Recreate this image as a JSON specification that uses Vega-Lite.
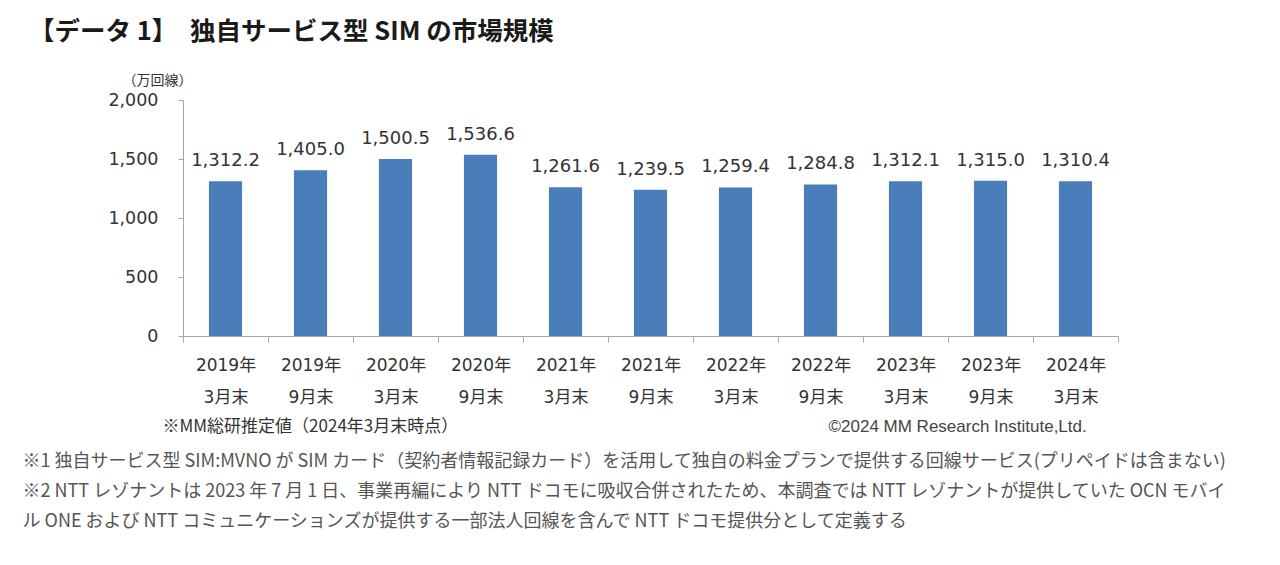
{
  "$schema": "https://vega.github.io/schema/vega-lite/v6.json",
  "autosize": "none",
  "width": 935,
  "height": 236,
  "padding": {"left": 183, "top": 100, "right": 162, "bottom": 229},
  "background": "white",
  "config": {"view": {"stroke": null}},
  "title": {
    "text": "【データ 1】　独自サービス型 SIM の市場規模",
    "anchor": "start",
    "frame": "group",
    "orient": "top",
    "baseline": "bottom",
    "offset": 0,
    "dx": -154,
    "dy": -3,
    "font": "Noto Sans CJK JP",
    "fontSize": 25.5,
    "fontWeight": "bold",
    "color": "#1a1a1a"
  },
  "data": {
    "values": [
      {"period": "2019年 3月末", "value": 1312.2},
      {"period": "2019年 9月末", "value": 1405.0},
      {"period": "2020年 3月末", "value": 1500.5},
      {"period": "2020年 9月末", "value": 1536.6},
      {"period": "2021年 3月末", "value": 1261.6},
      {"period": "2021年 9月末", "value": 1239.5},
      {"period": "2022年 3月末", "value": 1259.4},
      {"period": "2022年 9月末", "value": 1284.8},
      {"period": "2023年 3月末", "value": 1312.1},
      {"period": "2023年 9月末", "value": 1315.0},
      {"period": "2024年 3月末", "value": 1310.4}
    ]
  },
  "layer": [
    {
      "mark": {"type": "bar", "width": {"band": 0.39}, "color": "#4A7EBB"},
      "encoding": {
        "x": {
          "field": "period",
          "type": "nominal",
          "sort": null,
          "scale": {"paddingInner": 0, "paddingOuter": 0},
          "axis": {
            "orient": "bottom",
            "labelExpr": "split(datum.label, ' ')",
            "labelAngle": 0,
            "labelFont": "DejaVu Sans, Noto Sans CJK JP",
            "labelFontSize": 17,
            "labelColor": "#333333",
            "labelLineHeight": 32,
            "labelPadding": 15,
            "labelBaseline": "top",
            "tickBand": "extent",
            "tickSize": 6,
            "tickColor": "#a6a6a6",
            "domainColor": "#a6a6a6",
            "grid": false,
            "title": "※MM総研推定値（2024年3月末時点）",
            "titleX": -21,
            "titleY": 90,
            "titleAlign": "left",
            "titleAnchor": null,
            "titleBaseline": "middle",
            "titleFont": "Noto Sans CJK JP",
            "titleFontSize": 17,
            "titleFontWeight": "normal",
            "titleColor": "#333333"
          }
        },
        "y": {
          "field": "value",
          "type": "quantitative",
          "scale": {"domain": [0, 2000], "nice": false},
          "axis": {
            "values": [0, 500, 1000, 1500, 2000],
            "format": ",.0f",
            "labelFont": "DejaVu Sans",
            "labelFontSize": 17.5,
            "labelColor": "#333333",
            "labelPadding": 20,
            "tickSize": 5,
            "tickColor": "#a6a6a6",
            "domainColor": "#a6a6a6",
            "grid": false,
            "title": "（万回線）",
            "titleAngle": 0,
            "titleX": -26,
            "titleY": -20,
            "titleAlign": "center",
            "titleBaseline": "middle",
            "titleFont": "Noto Sans CJK JP",
            "titleFontSize": 14,
            "titleFontWeight": "normal",
            "titleColor": "#333333"
          }
        }
      }
    },
    {
      "mark": {"type": "text", "baseline": "alphabetic", "dy": -15, "font": "DejaVu Sans", "fontSize": 18, "color": "#333333"},
      "encoding": {
        "x": {
          "field": "period",
          "type": "nominal",
          "sort": null,
          "axis": {
            "orient": "bottom",
            "labels": false,
            "ticks": false,
            "domain": false,
            "grid": false,
            "title": "©2024 MM Research Institute,Ltd.",
            "titleX": 645,
            "titleY": 90,
            "titleAlign": "left",
            "titleAnchor": null,
            "titleBaseline": "middle",
            "titleFont": "Liberation Sans",
            "titleFontSize": 17,
            "titleFontWeight": "normal",
            "titleColor": "#444444"
          }
        },
        "y": {
          "field": "value",
          "type": "quantitative",
          "axis": {
            "orient": "left",
            "labels": false,
            "ticks": false,
            "domain": false,
            "grid": false,
            "title": [
              "※1 独自サービス型 SIM:MVNO が SIM カード（契約者情報記録カード）を活用して独自の料金プランで提供する回線サービス(プリペイドは含まない)",
              "※2 NTT レゾナントは 2023 年 7 月 1 日、事業再編により NTT ドコモに吸収合併されたため、本調査では NTT レゾナントが提供していた OCN モバイ",
              "ル ONE および NTT コミュニケーションズが提供する一部法人回線を含んで NTT ドコモ提供分として定義する"
            ],
            "titleAngle": 0,
            "titleX": -161,
            "titleY": 366,
            "titleAlign": "left",
            "titleBaseline": "alphabetic",
            "titleLineHeight": 30,
            "titleFont": "Noto Sans CJK JP",
            "titleFontSize": 18,
            "titleFontWeight": "normal",
            "titleColor": "#555555"
          }
        },
        "text": {"field": "value", "type": "quantitative", "format": ",.1f"}
      }
    }
  ],
  "resolve": {"axis": {"x": "independent", "y": "independent"}}
}
